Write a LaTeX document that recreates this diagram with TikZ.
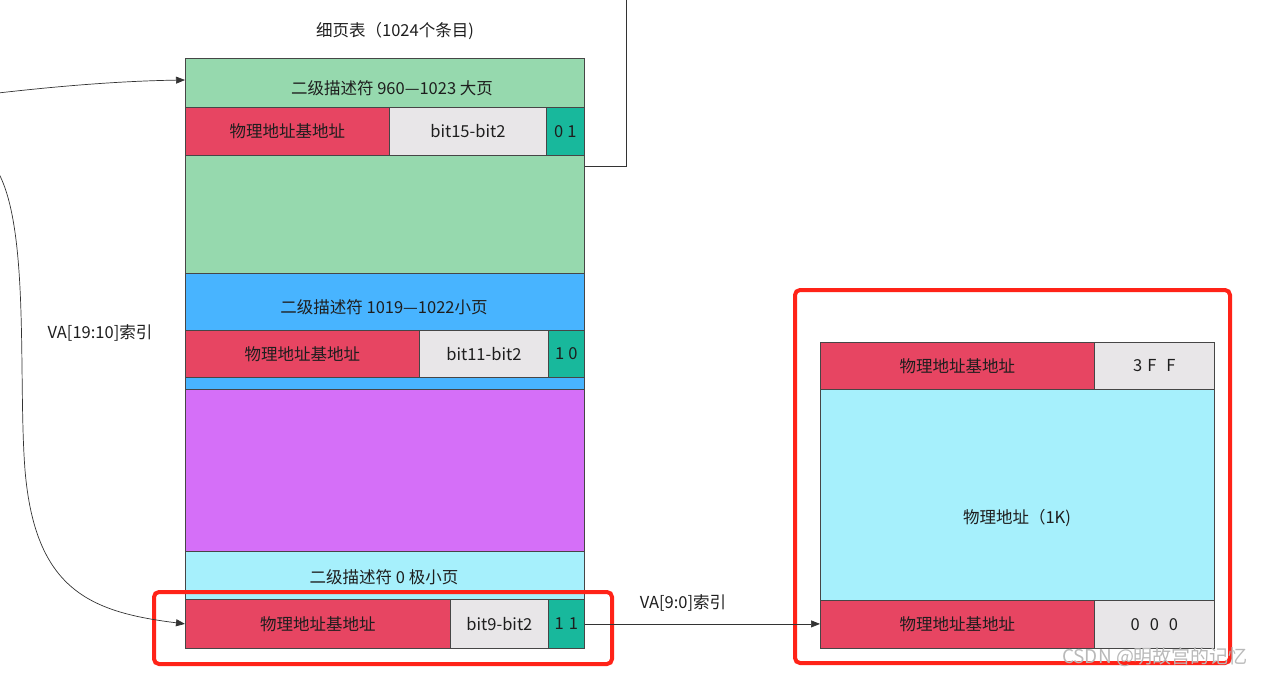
\documentclass[tikz,border=0pt]{standalone}
\usepackage{fontspec}
\setmainfont{Noto Sans CJK SC}
\usetikzlibrary{arrows.meta,calc}
\definecolor{cgreen}{RGB}{150,217,174}
\definecolor{cred}{RGB}{231,69,98}
\definecolor{cgray}{RGB}{232,230,232}
\definecolor{cteal}{RGB}{24,184,156}
\definecolor{cblue}{RGB}{72,180,255}
\definecolor{cpurple}{RGB}{213,111,248}
\definecolor{ccyan}{RGB}{166,240,252}
\definecolor{hired}{RGB}{255,35,24}
\definecolor{edge}{RGB}{70,70,70}
\definecolor{txt}{RGB}{30,30,30}
\tikzset{
  cell/.style={draw=edge, line width=0.8pt, inner sep=0pt, anchor=north west, text=txt, font=\fontsize{16.5}{19}\selectfont},
  lbl/.style={inner sep=0pt, text=txt, font=\fontsize{16.5}{19}\selectfont},
  hilite/.style={draw=hired, line width=4pt, rounded corners=5pt, inner sep=0pt, anchor=north west},
  conn/.style={draw=black!80, line width=0.7pt},
  arr/.style={conn, -{Triangle[length=9pt,width=7pt]}},
}
\begin{document}
\begin{tikzpicture}[x=1pt,y=-1pt]
\useasboundingbox (0,0) rectangle (1267,675);
% title
\node[lbl] (ttl) at (395,31) {细页表（1024个条目)};
% green section
\node[cell, fill=cgreen, minimum width=399pt, minimum height=215pt] (gsec) at (185,58) {};
\node[lbl] (gtitle) at (392,88) {二级描述符 960—1023 大页};
\node[cell, fill=cred, minimum width=204pt, minimum height=48pt] (gred) at (185,107) {物理地址基地址};
\node[cell, fill=cgray, minimum width=157pt, minimum height=48pt] (ggray) at (389,107) {bit15-bit2};
\node[cell, fill=cteal, minimum width=38pt, minimum height=48pt] (gteal) at (546,107) {0\hspace{4pt}1};
% blue section
\node[cell, fill=cblue, minimum width=399pt, minimum height=116pt] (bsec) at (185,273) {};
\node[lbl] (btitle) at (384,307) {二级描述符 1019—1022小页};
\node[cell, fill=cred, minimum width=234pt, minimum height=47pt] (bred) at (185,330) {物理地址基地址};
\node[cell, fill=cgray, minimum width=129pt, minimum height=47pt] (bgray) at (419,330) {bit11-bit2};
\node[cell, fill=cteal, minimum width=36pt, minimum height=47pt] (bteal) at (548,330) {1\hspace{4pt}0};
% purple section
\node[cell, fill=cpurple, minimum width=399pt, minimum height=162pt] (psec) at (185,389) {};
% cyan section
\node[cell, fill=ccyan, minimum width=399pt, minimum height=48pt] (csec) at (185,551) {};
\node[lbl] (ctitle) at (384,577) {二级描述符 0 极小页};
\node[cell, fill=cred, minimum width=265pt, minimum height=49pt] (cred) at (185,599) {物理地址基地址};
\node[cell, fill=cgray, minimum width=98pt, minimum height=49pt] (cgray) at (450,599) {bit9-bit2};
\node[cell, fill=cteal, minimum width=36pt, minimum height=49pt] (cteal) at (548,599) {1\hspace{5pt}1};
\node[hilite, minimum width=458pt, minimum height=72pt] (hl1) at (152,590) {};
% right box
\node[hilite, minimum width=435pt, minimum height=373pt] (hl2) at (793,288) {};
\node[cell, fill=cred, minimum width=274pt, minimum height=47pt] (rtred) at (820,342) {物理地址基地址};
\node[cell, fill=cgray, minimum width=120pt, minimum height=47pt] (rtgray) at (1094,342) {3\hspace{5pt}F\hspace{10pt}F};
\node[cell, fill=ccyan, minimum width=394pt, minimum height=211pt] (rcyan) at (820,389) {};
\node[lbl] (rtext) at (1017,518) {物理地址（1K)};
\node[cell, fill=cred, minimum width=274pt, minimum height=48pt] (rbred) at (820,600) {物理地址基地址};
\node[cell, fill=cgray, minimum width=120pt, minimum height=48pt] (rbgray) at (1094,600) {0\hspace{10pt}0\hspace{10pt}0};
% connectors
\coordinate (topend) at (626,-2);
\draw[conn] (gsec.east) -| (topend);
\coordinate (lin1) at (-2,93);
\draw[arr] (lin1) .. controls (60,86) and (120,81) .. ($(gsec.north west)+(0,22)$);
\coordinate (lin2) at (-2,172);
\draw[arr] (lin2) .. controls (30,230) and (18,380) .. (25,470)
  .. controls (35,590) and (90,612) .. (cred.west);
\node[lbl] (va1) at (100,333) {VA[19:10]索引};
\draw[arr] (cteal.east) -- (cteal.east -| rbred.west);
\node[lbl] (va2) at (683,603) {VA[9:0]索引};
\node[inner sep=0pt, text=gray!55, font=\fontsize{19}{22}\selectfont] (wm) at (1155,657) {CSDN @明故宫的记忆};
\end{tikzpicture}
\end{document}
